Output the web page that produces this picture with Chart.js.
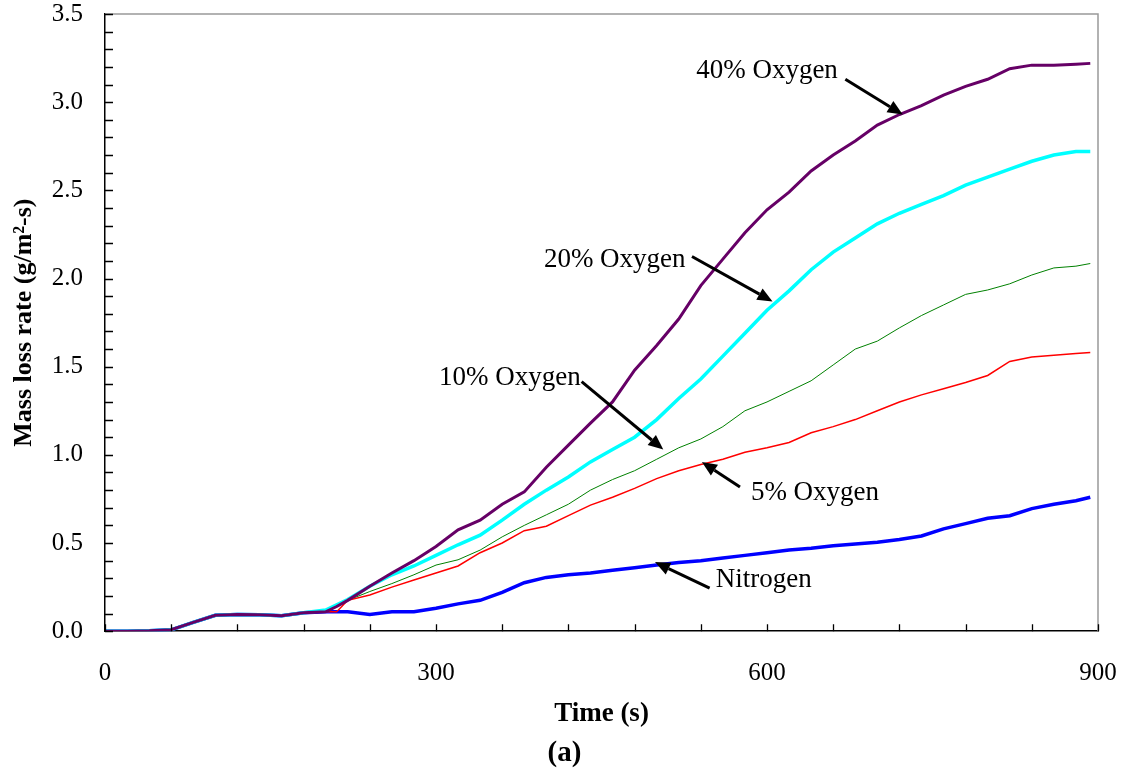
<!DOCTYPE html>
<html>
<head>
<meta charset="utf-8">
<script src="https://cdn.jsdelivr.net/npm/chart.js@4.4.1/dist/chart.umd.min.js"></script>
<style>
  html, body { margin: 0; padding: 0; background: #fff; }
  #wrap { width: 1129px; height: 776px; position: relative; }
</style>
</head>
<body>
<div id="wrap"><canvas id="c" width="1129" height="776"></canvas></div>
<script>
// ---- data ----
const timeS = [0,20,40,60,80,100,120,140,160,180,200,210,220,240,260,280,300,320,340,360,380,400,420,440,460,480,500,520,540,560,580,600,620,640,660,680,700,720,740,760,780,800,820,840,860,880,893];

const oxygen40 = [0,0,0.002,0.008,0.05,0.09,0.095,0.093,0.088,0.104,
  0.11,0.14,0.175,0.255,0.33,0.40,0.48,0.575,0.63,0.72,0.79,0.93,1.055,1.18,1.30,1.48,1.62,1.77,1.96,2.11,2.26,2.39,2.49,2.61,2.70,2.78,2.87,2.93,2.98,3.04,3.09,3.13,3.19,3.21,3.21,3.215,3.22];

const oxygen20 = [0,0,0.002,0.008,0.05,0.09,0.095,0.093,0.088,0.104,
  0.12,0.15,0.18,0.255,0.32,0.37,0.43,0.49,0.545,0.63,0.72,0.80,0.875,0.96,1.03,1.10,1.20,1.32,1.43,1.56,1.69,1.82,1.93,2.05,2.15,2.23,2.31,2.37,2.42,2.47,2.53,2.575,2.62,2.665,2.70,2.72,2.72];

const oxygen10 = [0,0,0.002,0.008,0.05,0.09,0.095,0.093,0.088,0.104,
  0.11,0.14,0.175,0.225,0.27,0.32,0.375,0.405,0.46,0.535,0.60,0.66,0.72,0.80,0.86,0.91,0.975,1.04,1.09,1.16,1.25,1.30,1.36,1.42,1.51,1.60,1.645,1.72,1.79,1.85,1.91,1.935,1.97,2.02,2.06,2.07,2.085];

const oxygen5 = [0,0,0.002,0.008,0.05,0.09,0.095,0.093,0.088,0.104,
  0.11,0.11,0.175,0.205,0.25,0.29,0.33,0.37,0.445,0.50,0.57,0.595,0.655,0.715,0.76,0.81,0.865,0.91,0.945,0.975,1.015,1.04,1.07,1.125,1.16,1.20,1.25,1.30,1.34,1.375,1.41,1.45,1.53,1.555,1.565,1.575,1.58];

const nitrogen = [0,0,0.002,0.008,0.05,0.09,0.095,0.093,0.088,0.104,
  0.11,0.11,0.11,0.095,0.11,0.11,0.13,0.155,0.175,0.22,0.275,0.305,0.32,0.33,0.345,0.36,0.375,0.39,0.40,0.415,0.43,0.445,0.46,0.47,0.485,0.495,0.505,0.52,0.54,0.58,0.61,0.64,0.655,0.695,0.72,0.74,0.76];

const xTickLabels = [0, 300, 600, 900];
const yTickLabels = [0, 0.5, 1.0, 1.5, 2.0, 2.5, 3.0, 3.5];

// annotation labels (text position and arrow, in data units)
const noteLabels = ['40% Oxygen', '20% Oxygen', '10% Oxygen', '5% Oxygen', 'Nitrogen'];
const noteTextAt = [[600, 3.176], [462, 2.108], [367, 1.4375], [643.5, 0.784], [597, 0.29]];
const noteArrowFrom = [[671, 3.13], [532, 2.125], [432, 1.415], [575.5, 0.818], [548, 0.244]];
const noteArrowTo = [[723, 2.93], [605, 1.87], [506, 1.03], [541, 0.96], [498.5, 0.392]];

// ---- chart ----
const pts = arr => arr.map((v, i) => ({x: timeS[i], y: v}));
const SERIF = '"Liberation Serif", "Times New Roman", serif';

const extras = {
  id: 'extras',
  afterDatasetsDraw(chart) {
    const {ctx, chartArea: a, scales: {x, y}} = chart;
    ctx.save();
    // gray top/right frame
    ctx.strokeStyle = '#999';
    ctx.lineWidth = 1.5;
    ctx.beginPath();
    ctx.moveTo(a.left, a.top); ctx.lineTo(a.right, a.top); ctx.lineTo(a.right, a.bottom);
    ctx.stroke();
    // inward ticks
    ctx.strokeStyle = '#000';
    ctx.lineWidth = 1.3;
    ctx.beginPath();
    for (let v = 0; v <= 3.5001; v += 0.1) {
      const py = Math.round(y.getPixelForValue(v)) + 0.5;
      ctx.moveTo(a.left, py); ctx.lineTo(a.left + 8, py);
    }
    for (let t = 0; t <= 900; t += 60) {
      const px = Math.round(x.getPixelForValue(t)) + 0.5;
      ctx.moveTo(px, a.bottom); ctx.lineTo(px, a.bottom - 7);
    }
    ctx.stroke();
    // annotations
    ctx.fillStyle = '#000';
    ctx.font = '27px ' + SERIF;
    ctx.textAlign = 'center';
    ctx.textBaseline = 'middle';
    noteLabels.forEach((lab, i) => {
      ctx.fillText(lab, x.getPixelForValue(noteTextAt[i][0]), y.getPixelForValue(noteTextAt[i][1]));
      const x0 = x.getPixelForValue(noteArrowFrom[i][0]), y0 = y.getPixelForValue(noteArrowFrom[i][1]);
      const x1 = x.getPixelForValue(noteArrowTo[i][0]), y1 = y.getPixelForValue(noteArrowTo[i][1]);
      const ang = Math.atan2(y1 - y0, x1 - x0);
      const hl = 15, hw = 6.5;
      const bx = x1 - hl * Math.cos(ang), by = y1 - hl * Math.sin(ang);
      ctx.lineWidth = 3;
      ctx.beginPath(); ctx.moveTo(x0, y0); ctx.lineTo(bx, by); ctx.stroke();
      ctx.beginPath();
      ctx.moveTo(x1, y1);
      ctx.lineTo(bx + hw * Math.sin(ang), by - hw * Math.cos(ang));
      ctx.lineTo(bx - hw * Math.sin(ang), by + hw * Math.cos(ang));
      ctx.closePath(); ctx.fill();
    });
    ctx.restore();
  }
};

const noPad = s => { s.paddingTop = 0; s.paddingBottom = 0; s.paddingLeft = 0; s.paddingRight = 0; };

new Chart(document.getElementById('c'), {
  type: 'line',
  data: {
    datasets: [
      {label: '40% Oxygen', data: pts(oxygen40), borderColor: '#660066', borderWidth: 3, order: 0},
      {label: '5% Oxygen', data: pts(oxygen5), borderColor: '#ff0000', borderWidth: 1.5, order: 1},
      {label: '10% Oxygen', data: pts(oxygen10), borderColor: '#008000', borderWidth: 1, order: 2},
      {label: '20% Oxygen', data: pts(oxygen20), borderColor: '#00ffff', borderWidth: 3.5, order: 3},
      {label: 'Nitrogen', data: pts(nitrogen), borderColor: '#0000ff', borderWidth: 3.5, order: 4}
    ]
  },
  options: {
    responsive: false,
    animation: false,
    events: [],
    layout: {padding: {left: 0, top: 14, right: 0, bottom: 0}},
    elements: {point: {radius: 0}, line: {tension: 0, fill: false}},
    plugins: {
      legend: {display: false},
      tooltip: {enabled: false},
      title: {
        display: true, position: 'bottom', text: '(a)', color: '#000',
        font: {family: SERIF, size: 29, weight: 'bold'}, padding: {top: 0, bottom: 5}
      }
    },
    scales: {
      x: {
        type: 'linear', min: 0, max: 900,
        afterBuildTicks: s => { s.ticks = xTickLabels.map(v => ({value: v})); },
        ticks: {color: '#000', font: {family: SERIF, size: 25}, padding: 19, maxRotation: 0},
        grid: {display: false},
        border: {display: true, color: '#000', width: 1.5},
        title: {display: true, text: 'Time (s)', color: '#000', font: {family: SERIF, size: 27, weight: 'bold'}, padding: {top: 0, bottom: 6}},
        afterFit: s => { s.height = 776 - 631 - 40; noPad(s); s.paddingRight = 31; }
      },
      y: {
        type: 'linear', min: 0, max: 3.5,
        afterBuildTicks: s => { s.ticks = yTickLabels.map(v => ({value: v})); },
        ticks: {color: '#000', font: {family: SERIF, size: 25}, padding: 14, callback: v => v.toFixed(1)},
        grid: {display: false},
        border: {display: true, color: '#000', width: 1.5},
        title: {display: true, text: 'Mass loss rate (g/m²-s)', color: '#000', font: {family: SERIF, size: 26, weight: 'bold'}, padding: {top: 9, bottom: 0}},
        afterFit: s => { s.width = 105; noPad(s); }
      }
    }
  },
  plugins: [extras]
});
</script>
</body>
</html>
